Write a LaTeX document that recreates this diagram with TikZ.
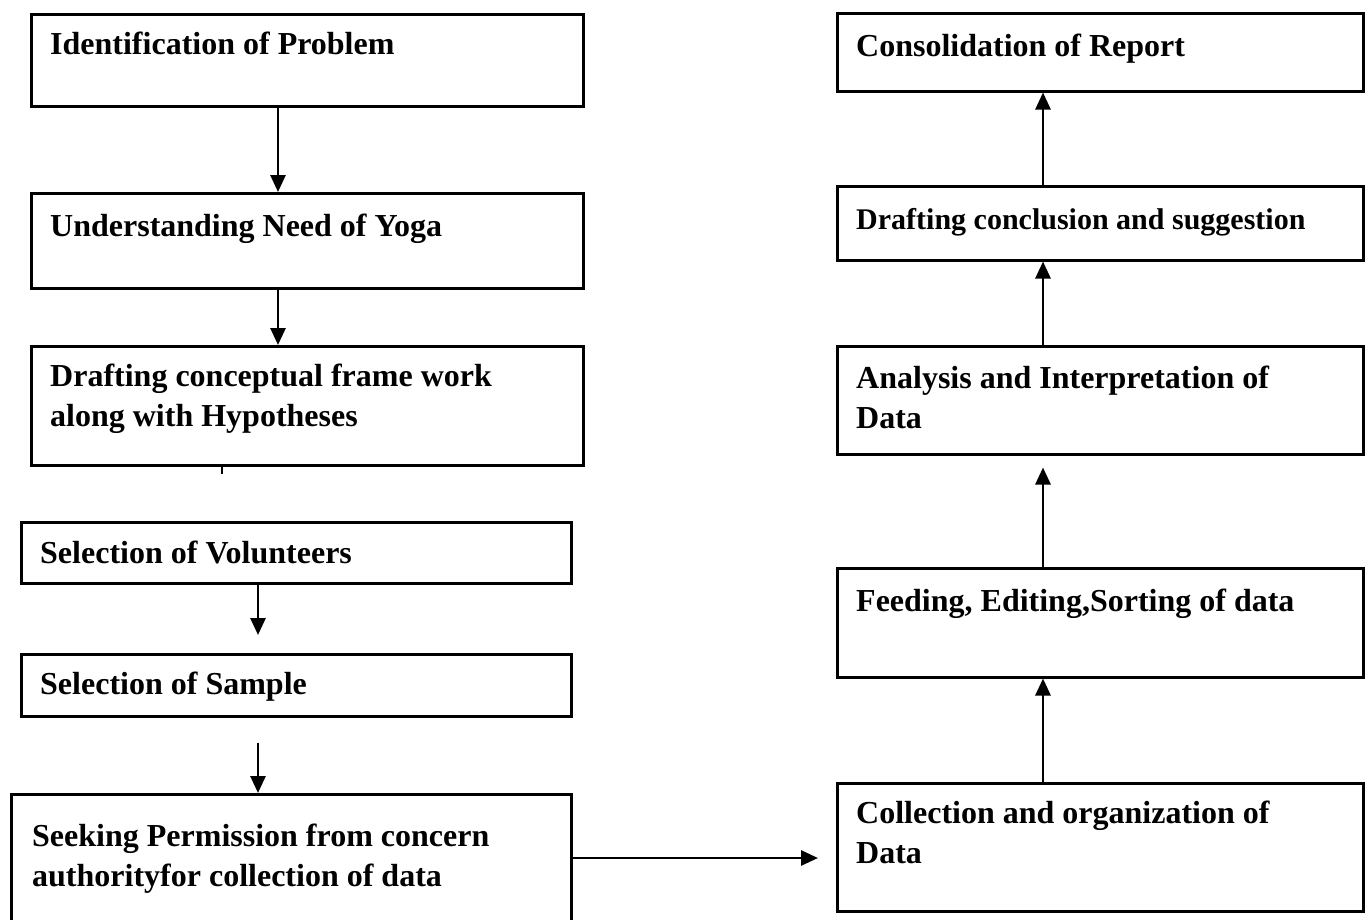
\documentclass[tikz,border=0pt]{standalone}
\usepackage{fontspec}
\setmainfont{Liberation Serif}
\usetikzlibrary{arrows.meta}
\tikzset{
  box/.style={draw=black, line width=2.5pt, rectangle, inner sep=0pt, anchor=north west, fill=white},
  txt/.style={anchor=base west, inner sep=0pt, align=left, font=\bfseries\fontsize{32}{40}\selectfont},
  txtsmall/.style={txt, font=\bfseries\fontsize{30}{38}\selectfont},
  arr/.style={line width=2.8pt, -{Triangle[length=17pt,width=15pt]}},
  plain/.style={line width=2.8pt}
}
\begin{document}
\begin{tikzpicture}[x=1pt,y=-1pt]
\useasboundingbox[fill=white] (0,0) rectangle (1365,919);
\clip (0,0) rectangle (1365,919);
% left column
\node[box, minimum width=552pt, minimum height=92pt] (l1) at (30,13) {};
\node[txt] (t1) at (50,54) {Identification of Problem};
\node[box, minimum width=552pt, minimum height=95pt] (l2) at (30,192) {};
\node[txt] (t2) at (50,236) {Understanding Need of Yoga};
\node[box, minimum width=552pt, minimum height=119pt] (l3) at (30,345) {};
\node[txt] (t3) at (50,426) {Drafting conceptual frame work\\along with Hypotheses};
\node[box, minimum width=550pt, minimum height=61pt] (l4) at (20,521) {};
\node[txt] (t4) at (40,563) {Selection of Volunteers};
\node[box, minimum width=550pt, minimum height=62pt] (l5) at (20,653) {};
\node[txt] (t5) at (40,694) {Selection of Sample};
\node[box, minimum width=560pt, minimum height=140pt] (l6) at (10,793) {};
\node[txt] (t6) at (32,886) {Seeking Permission from concern\\authorityfor collection of data};
% right column
\node[box, minimum width=526pt, minimum height=78pt] (r1) at (836,12) {};
\node[txt] (u1) at (856,56) {Consolidation of Report};
\node[box, minimum width=526pt, minimum height=74pt] (r2) at (836,185) {};
\node[txtsmall] (u2) at (856,229) {Drafting conclusion and suggestion};
\node[box, minimum width=526pt, minimum height=108pt] (r3) at (836,345) {};
\node[txt] (u3) at (856,428) {Analysis and Interpretation of\\Data};
\node[box, minimum width=526pt, minimum height=109pt] (r4) at (836,567) {};
\node[txt] (u4) at (856,611) {Feeding, Editing,Sorting of data};
\node[box, minimum width=526pt, minimum height=128pt] (r5) at (836,782) {};
\node[txt] (u5) at (856,863) {Collection and organization of\\Data};
% left connectors
\draw[arr] ([xshift=248pt]l1.south west) -- ([xshift=248pt]l2.north west);
\draw[arr] ([xshift=248pt]l2.south west) -- ([xshift=248pt]l3.north west);
\draw[plain] ([xshift=192pt]l3.south west) -- ++(0,7);
\draw[arr] ([xshift=238pt]l4.south west) -- ([xshift=238pt,yshift=18pt]l5.north west);
\draw[arr] ([xshift=238pt,yshift=-25pt]l5.south west) -- ([xshift=248pt]l6.north west);
\draw[arr] ([yshift=-65pt]l6.north east) -- ([xshift=-18pt,yshift=-76pt]r5.north west);
% right connectors
\draw[arr] ([xshift=207pt]r5.north west) -- ([xshift=207pt]r4.south west);
\draw[arr] ([xshift=207pt]r4.north west) -- ([xshift=207pt,yshift=-12pt]r3.south west);
\draw[arr] ([xshift=207pt]r3.north west) -- ([xshift=207pt]r2.south west);
\draw[arr] ([xshift=207pt]r2.north west) -- ([xshift=207pt]r1.south west);
\end{tikzpicture}
\end{document}
